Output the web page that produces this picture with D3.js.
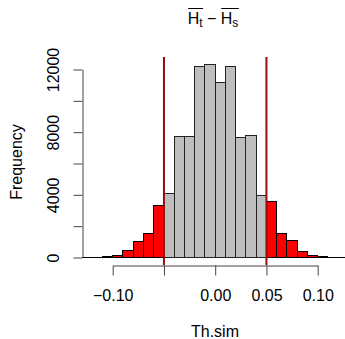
<!DOCTYPE html>
<html>
<head>
<meta charset="utf-8">
<script src="https://cdn.jsdelivr.net/npm/d3@7"></script>
<style>
  body { margin: 0; background: #fff; }
  svg { display: block; }
  text { font-family: "Liberation Sans", Arial, Helvetica, sans-serif; fill: #000; }
</style>
</head>
<body>
<svg></svg>
<script>
// histogram bins (left edges + last right edge)
const breaks = [-0.11, -0.10, -0.09, -0.08, -0.07, -0.06, -0.05, -0.04, -0.03, -0.02, -0.01,
                0.00, 0.01, 0.02, 0.03, 0.04, 0.05, 0.06, 0.07, 0.08, 0.09, 0.10, 0.11, 0.12]
// all simulated values
const counts = [40, 130, 460, 1050, 1510, 3320, 4090, 7720, 7740, 12190, 12300,
                11170, 12220, 7680, 7760, 3950, 3560, 1535, 1095, 400, 135, 60, 15]
// tail histogram (drawn over in red)
const tailCounts = [40, 130, 460, 1050, 1510, 3320, 0, 0, 0, 0, 0,
                    0, 0, 0, 0, 0, 3560, 1535, 1095, 400, 135, 60, 0]
const critical = [-0.05, 0.05]

const xTicks = [-0.10, -0.05, 0.00, 0.05, 0.10]
const xTickLabels = ["\u22120.10", "", "0.00", "0.05", "0.10"]
const yTicks = [0, 2000, 4000, 6000, 8000, 10000, 12000]
const yTickLabels = ["0", "", "4000", "", "8000", "", "12000"]

const xTitle = "Th.sim"
const yTitle = "Frequency"

// basic parameters
const width = 345
const height = 339
const plotTop = 57
const plotBottom = 265
const plotLeft = 82

const svg = d3.select("svg")
  .attr("width", width)
  .attr("height", height)

const xScale = d3.scaleLinear().domain([-0.10, 0.10]).range([112.7, 317.7])
const yScale = d3.scaleLinear().domain([0, 12000]).range([257.5, 69.5])

const bins = counts.map((c, i) => ({x0: breaks[i], x1: breaks[i + 1], count: c}))
const tailBins = tailCounts.map((c, i) => ({x0: breaks[i], x1: breaks[i + 1], count: c}))

const crisp = v => Math.round(v - 0.5) + 0.5

// baseline (zero-height bars of tail histogram)
svg.append("line")
  .attr("x1", plotLeft).attr("x2", width)
  .attr("y1", crisp(yScale(0))).attr("y2", crisp(yScale(0)))
  .attr("stroke", "#000")

// gray histogram
svg.append("g").selectAll("rect")
  .data(bins.filter(d => d.count > 0))
  .join("rect")
    .attr("x", d => crisp(xScale(d.x0)))
    .attr("width", d => crisp(xScale(d.x1)) - crisp(xScale(d.x0)))
    .attr("y", d => crisp(yScale(d.count)))
    .attr("height", d => crisp(yScale(0)) - crisp(yScale(d.count)))
    .attr("fill", "#bebebe")
    .attr("stroke", "#222")

// red tail histogram
svg.append("g").selectAll("rect")
  .data(tailBins.filter(d => d.count > 0))
  .join("rect")
    .attr("x", d => crisp(xScale(d.x0)))
    .attr("width", d => crisp(xScale(d.x1)) - crisp(xScale(d.x0)))
    .attr("y", d => crisp(yScale(d.count)))
    .attr("height", d => crisp(yScale(0)) - crisp(yScale(d.count)))
    .attr("fill", "#ff0000")
    .attr("stroke", "#000")

// critical value lines
svg.append("g").selectAll("line")
  .data(critical)
  .join("line")
    .attr("x1", d => xScale(d)).attr("x2", d => xScale(d))
    .attr("y1", plotTop).attr("y2", plotBottom)
    .attr("stroke", "#960c0c")
    .attr("stroke-width", 2)

// x axis
const xAxis = svg.append("g")
  .attr("transform", "translate(0," + (plotBottom + 0.5) + ")")
  .call(d3.axisBottom(xScale)
    .tickValues(xTicks)
    .tickFormat((d, i) => xTickLabels[i])
    .tickSize(10)
    .tickSizeOuter(0))
xAxis.select(".domain").attr("stroke", "#444")
xAxis.selectAll(".tick line").attr("stroke", "#444")
xAxis.selectAll(".tick text")
  .attr("y", 35).attr("dy", null)
  .attr("font-size", 16)
xAxis.attr("font-family", null)

// y axis
const yAxis = svg.append("g")
  .attr("transform", "translate(" + (plotLeft + 0.5) + ",0)")
  .call(d3.axisLeft(yScale)
    .tickValues(yTicks)
    .tickFormat((d, i) => yTickLabels[i])
    .tickSize(9)
    .tickSizeOuter(0))
yAxis.select(".domain").attr("stroke", "#444")
yAxis.selectAll(".tick line").attr("stroke", "#444")
yAxis.selectAll(".tick text")
  .attr("x", null).attr("dy", null)
  .attr("text-anchor", "middle")
  .attr("transform", "translate(-24,0) rotate(-90)")
  .attr("font-size", 16)
yAxis.attr("font-family", null)

// axis titles
svg.append("text")
  .attr("x", 215).attr("y", 337)
  .attr("text-anchor", "middle")
  .attr("font-size", 16)
  .text(xTitle)

svg.append("text")
  .attr("transform", "translate(22,162) rotate(-90)")
  .attr("text-anchor", "middle")
  .attr("font-size", 16)
  .text(yTitle)

// title: overline(H[t]) - overline(H[s])
const titleParts = [
  {t: "H", size: 16, dy: 0, bar: 0},
  {t: "t", size: 12, dy: 3, bar: 0},
  {t: " \u2212 ", size: 16, dy: 0, bar: -1},
  {t: "H", size: 16, dy: 0, bar: 1},
  {t: "s", size: 12, dy: 3, bar: 1}
]
const titleG = svg.append("g")
let cursor = 0
const pieces = titleParts.map(p => {
  const el = titleG.append("text")
    .attr("x", cursor).attr("y", 24 + p.dy)
    .attr("font-size", p.size)
    .style("white-space", "pre")
    .text(p.t)
  const w = el.node().getComputedTextLength()
  const out = {start: cursor, end: cursor + w, bar: p.bar}
  cursor += w
  return out
})
const titleShift = 213 - cursor / 2
titleG.attr("transform", "translate(" + titleShift + ",0)")
;[0, 1].forEach(b => {
  const grp = pieces.filter(p => p.bar === b)
  titleG.append("line")
    .attr("x1", d3.min(grp, p => p.start) + 0.5)
    .attr("x2", d3.max(grp, p => p.end) + 0.5)
    .attr("y1", 8.5).attr("y2", 8.5)
    .attr("stroke", "#000")
})
</script>
</body>
</html>
